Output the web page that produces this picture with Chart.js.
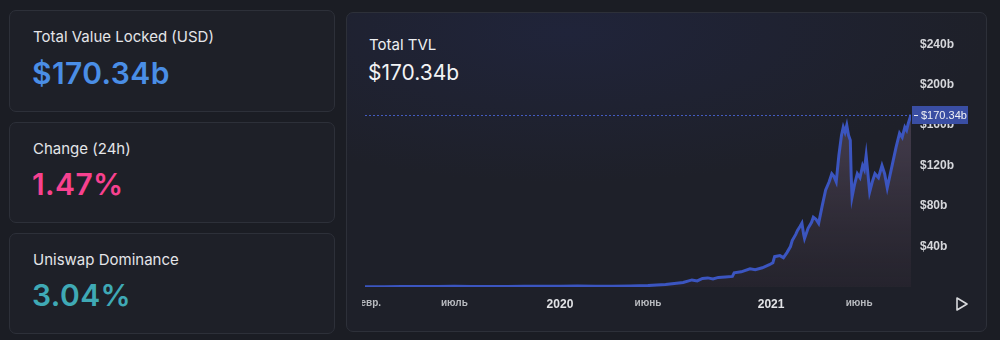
<!DOCTYPE html>
<html>
<head>
<meta charset="utf-8">
<script src="https://cdn.jsdelivr.net/npm/chart.js@4"></script>
<style>
  html, body { margin: 0; padding: 0; }
  body {
    width: 1000px; height: 340px; overflow: hidden;
    background: #1b1d24;
    font-family: Inter, "Noto Sans", sans-serif;
    position: relative;
  }
  .card {
    position: absolute;
    background: #1e2028;
    border: 1px solid #2d3039;
    border-radius: 7px;
    box-sizing: border-box;
  }
  .txt { position: absolute; white-space: nowrap; line-height: 1; }
  .title { color: #e4e5e8; font-size: 15px; }
  .big { font-size: 30px; font-weight: 600; letter-spacing: 0.4px; }
  #chartWrap { position: absolute; left: 362px; top: 12px; width: 624px; height: 319px; }
</style>
</head>
<body>
  <div class="card" style="left:9px;top:10px;width:326px;height:102px;"></div>
  <div class="card" style="left:9px;top:122px;width:326px;height:101px;"></div>
  <div class="card" style="left:9px;top:233px;width:326px;height:101px;"></div>
  <div class="card" style="left:346px;top:12px;width:641px;height:320px;
       background: radial-gradient(ellipse 420px 150px at 220px 20px, #20243a 0%, #1e2029 100%);"></div>

  <div class="txt title" style="left:33px;top:29px;">Total Value Locked (USD)</div>
  <div class="txt big" style="left:32px;top:58px;color:#4a8ee6;">$170.34b</div>

  <div class="txt title" style="left:33px;top:141px;">Change (24h)</div>
  <div class="txt big" style="left:32px;top:169px;color:#f7418f;">1.47%</div>

  <div class="txt title" style="left:33px;top:252px;">Uniswap Dominance</div>
  <div class="txt big" style="left:32px;top:280px;color:#3fa9b5;">3.04%</div>

  <div class="txt" style="left:369px;top:37px;color:#eef0f2;font-size:15px;">Total TVL</div>
  <div class="txt" style="left:368px;top:62px;color:#f2f3f5;font-size:21px;">$170.34b</div>

  <div id="chartWrap"><canvas id="tvlChart" width="624" height="319"></canvas></div>

  <svg style="position:absolute;left:955px;top:296px;" width="14" height="16" viewBox="0 0 14 16">
    <polygon points="2,2 12,8 2,14" fill="none" stroke="#d8d9dc" stroke-width="1.6" stroke-linejoin="round"/>
  </svg>

<script>
// months since Jan 2019 (0 = Jan 2019)
const months = [
  0.92, 2, 3, 4, 5, 6, 7, 8, 9, 10, 11, 12, 13, 14, 15, 16, 17, 17.5, 18, 18.5,
  19, 19.5, 19.8, 20.1, 20.4, 20.7, 21, 21.4, 21.8, 21.9, 22.3, 22.8, 23.1, 23.5, 23.9,
  24.1, 24.2, 24.5, 24.7, 24.9, 25.1, 25.2, 25.4, 25.5, 25.65, 25.75, 25.85, 25.9,
  26.1, 26.3, 26.4, 26.55, 26.7, 26.9, 27.1, 27.3, 27.45, 27.55, 27.7, 27.85, 28.0,
  28.1, 28.2, 28.3, 28.4, 28.5, 28.55, 28.6, 28.75, 28.9, 29.05, 29.2, 29.3, 29.4,
  29.5, 29.6, 29.75, 29.9, 30.1, 30.3, 30.45, 30.6, 30.75, 30.9, 31.1, 31.3, 31.45,
  31.6, 31.7, 31.8, 31.95
];
// TVL in billions USD
const tvl = [
  0.3, 0.35, 0.45, 0.55, 0.6, 0.65, 0.6, 0.6, 0.6, 0.65, 0.65, 0.7, 0.9, 0.75, 0.85, 1.0, 1.4, 2.0, 2.5, 3.5,
  4.5, 7, 6, 8.5, 9, 8, 9.5, 10, 10.5, 14, 15, 18, 17, 19, 22,
  24, 30, 31, 29, 34, 40, 46, 52, 56, 60, 63, 52, 48,
  58, 64, 69, 67, 63, 80, 96, 104, 112, 110, 104, 130, 150,
  158, 153, 160, 150, 145, 110, 89, 102, 112, 108, 120, 116, 130,
  112, 94, 104, 112, 108, 120, 112, 98, 110, 122, 138, 152, 148,
  158, 155, 162, 170.34
];
const xTickValues = [1, 6, 12, 17, 24, 29];
const xTickLabels = ['февр.', 'июль', '2020', 'июнь', '2021', 'июнь'];
const yTickValues = [40, 80, 120, 160, 200, 240];
const currentLabel = '$170.34b';

const lineColor = '#3b55c0';

const priceLinePlugin = {
  id: 'priceLine',
  afterDatasetsDraw(chart) {
    const { ctx, chartArea, scales } = chart;
    const y = Math.round(scales.y.getPixelForValue(tvl[tvl.length - 1]));
    ctx.save();
    ctx.strokeStyle = 'rgba(72, 98, 210, 0.9)';
    ctx.lineWidth = 1;
    ctx.setLineDash([2, 2]);
    ctx.beginPath();
    ctx.moveTo(chartArea.left, y + 0.5);
    ctx.lineTo(chartArea.right, y + 0.5);
    ctx.stroke();
    ctx.setLineDash([]);
    // label box on the axis
    const bx = chartArea.right + 1;
    ctx.fillStyle = '#3a4ea3';
    ctx.fillRect(bx, y - 9, 56, 18);
    ctx.strokeStyle = '#e8e9ee';
    ctx.beginPath();
    ctx.moveTo(bx + 2, y + 0.5);
    ctx.lineTo(bx + 6, y + 0.5);
    ctx.stroke();
    ctx.fillStyle = '#f0f1f5';
    ctx.font = '11px "Liberation Sans"';
    ctx.textBaseline = 'middle';
    ctx.fillText(currentLabel, bx + 9, y + 1);
    ctx.restore();
  }
};

const ctx = document.getElementById('tvlChart').getContext('2d');
new Chart(ctx, {
  type: 'line',
  data: {
    datasets: [{
      data: months.map((m, i) => ({ x: m, y: tvl[i] })),
      borderColor: lineColor,
      borderWidth: 3,
      pointRadius: 0,
      tension: 0,
      fill: 'origin',
      backgroundColor: function(context) {
        const area = context.chart.chartArea;
        if (!area) return 'rgba(0,0,0,0)';
        const g = context.chart.ctx.createLinearGradient(0, area.top, 0, area.bottom);
        g.addColorStop(0, 'rgba(115, 95, 120, 0.6)');
        g.addColorStop(0.5, 'rgba(95, 80, 100, 0.48)');
        g.addColorStop(1, 'rgba(60, 48, 60, 0.25)');
        return g;
      }
    }]
  },
  options: {
    responsive: false,
    animation: false,
    devicePixelRatio: 1,
    layout: { padding: { left: 3, top: 12, right: 0, bottom: 0 } },
    plugins: { legend: { display: false }, tooltip: { enabled: false } },
    scales: {
      x: {
        type: 'linear',
        min: 0.92,
        max: 31.95,
        grid: { display: false, drawTicks: false },
        border: { display: false },
        afterBuildTicks: (scale) => { scale.ticks = xTickValues.map(v => ({ value: v })); },
        afterFit: (scale) => { scale.height = 44; scale.paddingLeft = 0; scale.paddingRight = 0; },
        ticks: {
          autoSkip: false,
          maxRotation: 0,
          padding: 10,
          callback: (v, i) => xTickLabels[i],
          color: (c) => /^\d+$/.test(xTickLabels[c.index]) ? '#e2e3e6' : '#b8babf',
          font: (c) => /^\d+$/.test(xTickLabels[c.index])
            ? { family: 'Liberation Sans', size: 12, weight: 'bold' }
            : { family: 'Liberation Sans', size: 10, weight: 'bold' }
        }
      },
      y: {
        position: 'right',
        min: 0,
        max: 260,
        grid: { display: false, drawTicks: false },
        border: { display: false },
        afterBuildTicks: (scale) => { scale.ticks = yTickValues.map(v => ({ value: v })); },
        afterFit: (scale) => { scale.width = 75; scale.paddingTop = 0; scale.paddingBottom = 0; },
        ticks: {
          padding: 9,
          color: '#d6d7db',
          font: { family: 'Liberation Sans', size: 12, weight: 'bold' },
          callback: (v) => '$' + v + 'b'
        }
      }
    }
  },
  plugins: [priceLinePlugin]
});
</script>
</body>
</html>
